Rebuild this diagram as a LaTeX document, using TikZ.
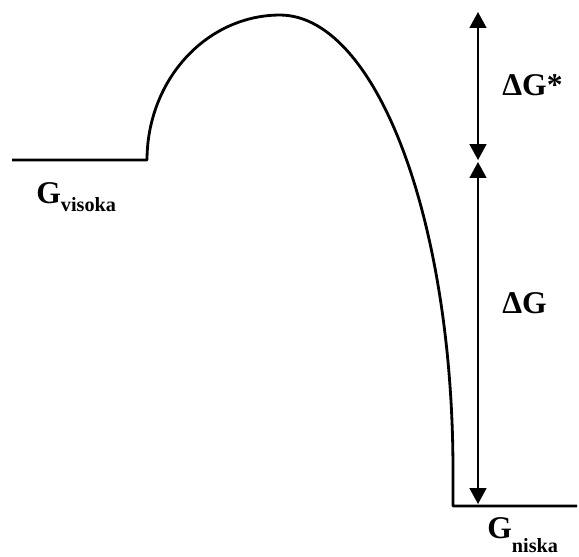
\documentclass[tikz,border=0pt]{standalone}
\usepackage{fontspec}
\setmainfont{Liberation Serif}
\usetikzlibrary{arrows.meta}

\tikzset{
  curve/.style={line width=1.6pt, line join=round},
  gap/.style={line width=1.1pt, {Triangle[length=9pt,width=9.5pt]}-{Triangle[length=9pt,width=9.5pt]}},
  lab/.style={inner sep=0pt, font=\bfseries\fontsize{18}{18}\selectfont}
}
\newcommand{\Gsub}[2][5pt]{G\raisebox{-#1}{\fontsize{11.5}{11.5}\selectfont #2}}

\begin{document}
\begin{tikzpicture}[x=0.02cm, y=-0.02cm]
\useasboundingbox (0,0) rectangle (579,556);

% Levels
\coordinate (hiL) at (12,160);
\coordinate (hiR) at (147,160);
\coordinate (loL) at (453,506);
\coordinate (loR) at (577,506);

% Energy curve
\draw[curve] (hiL) -- (hiR)
  -- plot[domain=180:90, samples=40] ({280+133*cos(\x)}, {160-145*sin(\x)})
  -- plot[domain=90:0, samples=60] ({280+173*cos(\x)}, {470-455*sin(\x)})
  -- (loL) -- (loR);

% Arrows
\coordinate (top) at (478,12);
\coordinate (midA) at (478,160);
\coordinate (midB) at (478,162);
\coordinate (bot) at (478,504);
\draw[gap] (top) -- (midA);
\draw[gap] (midB) -- (bot);

% Labels
\node[lab, anchor=base west] (dGs) at (502,95) {ΔG*};
\node[lab, anchor=base west] (dG) at (502,313) {ΔG};
\node[lab, anchor=base west] (Ghi) at (36,203) {\Gsub{visoka}};
\node[lab, anchor=base west] (Glo) at (487,538) {\Gsub[8pt]{niska}};
\end{tikzpicture}
\end{document}
